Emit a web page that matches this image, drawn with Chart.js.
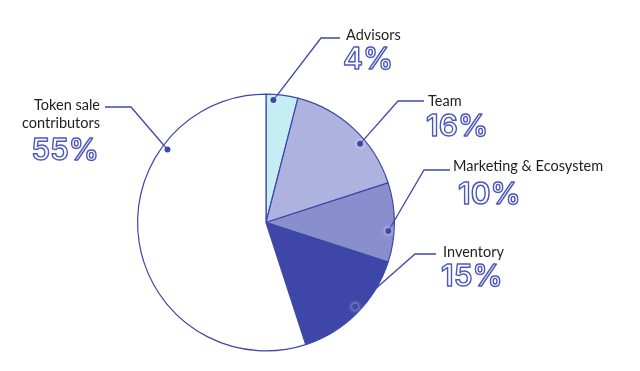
<!DOCTYPE html>
<html>
<head>
<meta charset="utf-8">
<script src="https://cdn.jsdelivr.net/npm/chart.js@4.4.0/dist/chart.umd.min.js"></script>
<style>
  html, body { margin: 0; padding: 0; background: #fff; }
  #wrap { width: 640px; height: 371px; }
</style>
</head>
<body>
<div id="wrap"><canvas id="pie" width="640" height="371"></canvas></div>
<script>
// token allocation pie
const LABELS = ["Advisors", "Team", "Marketing & Ecosystem", "Inventory", "Token sale contributors"];
const VALUES = [4, 16, 10, 15, 55];
const COLORS = ["#c5edf4", "#adb2df", "#898fcd", "#3e47a8", "#ffffff"];
const EDGE = "#3f47a8";

// where each callout goes (dot position inside slice, elbow, label anchor)
const CALLOUTS = [
  { frac: 0.24, elbow: [321, 38], end: [340, 38], tx: 346, ty: 35, px: 343, py: 60, align: "left", lines: ["Advisors"] },
  { frac: 0.62, elbow: [398, 101], end: [424, 101], tx: 428, ty: 101, px: 426, py: 127, align: "left", lines: ["Team"] },
  { frac: 0.61, elbow: [424, 170], end: [450, 170], tx: 453, ty: 166, px: 458, py: 195, align: "left", lines: ["Marketing & Ecosystem"] },
  { frac: 0.47, elbow: [415, 254], end: [436, 254], tx: 443, ty: 252, px: 441, py: 277, align: "left", lines: ["Inventory"] },
  { frac: 0.73, elbow: [131, 107], end: [105, 107], tx: 100, ty: 105, px: 99, py: 151, align: "right", lines: ["Token sale", "contributors"] },
];

const callouts = {
  id: "callouts",
  afterDraw(chart) {
    const ctx = chart.ctx;
    const arcs = chart.getDatasetMeta(0).data;
    arcs.forEach((arc, i) => {
      const c = CALLOUTS[i];
      const { x, y, startAngle, endAngle, outerRadius } = arc.getProps(["x", "y", "startAngle", "endAngle", "outerRadius"], true);
      const a = startAngle + (endAngle - startAngle) * c.frac;
      const r = outerRadius * 0.955;
      const dx = x + Math.cos(a) * r, dy = y + Math.sin(a) * r;

      ctx.save();
      ctx.strokeStyle = EDGE;
      ctx.lineWidth = 1.3;
      ctx.beginPath();
      ctx.moveTo(dx, dy);
      ctx.lineTo(c.elbow[0], c.elbow[1]);
      ctx.lineTo(c.end[0], c.end[1]);
      ctx.stroke();

      ctx.beginPath();
      ctx.arc(dx, dy, 3, 0, Math.PI * 2);
      ctx.fillStyle = EDGE;
      ctx.shadowColor = "rgba(255,255,255,0.9)";
      ctx.shadowBlur = 4;
      ctx.fill();
      ctx.shadowBlur = 0;

      ctx.textAlign = c.align;
      ctx.textBaseline = "middle";
      ctx.fillStyle = "#1e1e1e";
      ctx.font = "normal 14.5px Lato";
      c.lines.forEach((t, k) => ctx.fillText(t, c.tx, c.ty + k * 18));

      ctx.font = "normal 600 30px Inter";
      ctx.lineJoin = "round";
      ctx.lineWidth = 1.4;
      ctx.strokeStyle = "#4c57be";
      ctx.fillStyle = "#ffffff";
      const pct = VALUES[i] + "%";
      ctx.fillText(pct, c.px, c.py);
      ctx.strokeText(pct, c.px, c.py);
      ctx.restore();
    });
  }
};

new Chart(document.getElementById("pie"), {
  type: "pie",
  data: {
    labels: LABELS,
    datasets: [{
      data: VALUES,
      backgroundColor: COLORS,
      borderColor: EDGE,
      borderWidth: 1.2,
      hoverOffset: 0,
    }],
  },
  options: {
    responsive: false,
    animation: false,
    layout: { padding: { left: 137, right: 245, top: 93, bottom: 19 } },
    plugins: { legend: { display: false }, tooltip: { enabled: false } },
  },
  plugins: [callouts],
});
</script>
</body>
</html>
